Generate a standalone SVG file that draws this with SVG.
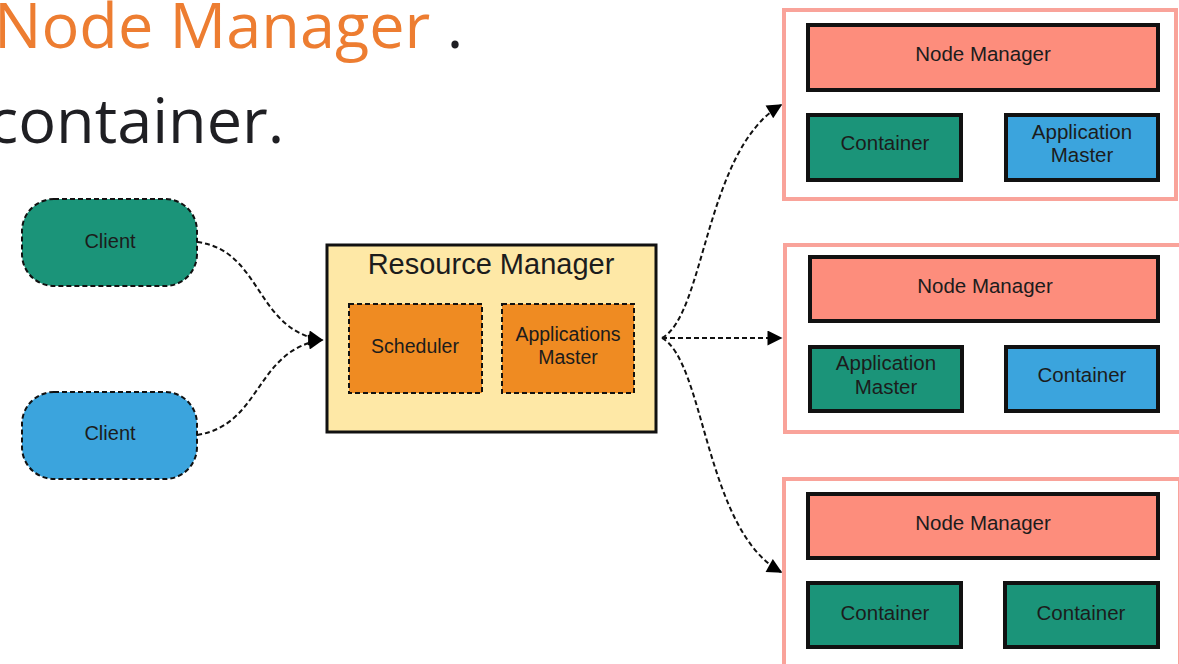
<svg xmlns="http://www.w3.org/2000/svg" width="1179" height="664" viewBox="0 0 1179 664">
<defs>
<style>
.t{font-family:"Liberation Sans",Arial,sans-serif;fill:#1c1c1c;text-anchor:middle}
.n{font-size:20.5px}
.big{font-family:"Open Sans","Noto Sans",sans-serif;font-size:63px}
.dash{stroke:#111;stroke-width:2;stroke-dasharray:5 3;fill:none}
.solid{stroke:#111;stroke-width:4}
.outer{fill:#fff;stroke:#F9A39A;stroke-width:4}
.nm{fill:#FD8D7C}
.green{fill:#1B9479}
.blue{fill:#3BA4DD}
.orange{fill:#EF8B22}
</style>
<marker id="ah" viewBox="0 0 10 10" refX="9" refY="5" markerWidth="18" markerHeight="15" markerUnits="userSpaceOnUse" orient="auto">
<path d="M0 0 L10 5 L0 10 z" fill="#000"/>
</marker>
</defs>
<rect width="1179" height="664" fill="#fff"/>
<text class="big" x="-6" y="48" fill="#ED7D31">Node Manager <tspan fill="#1F1F23">.</tspan></text>
<text class="big" x="-12" y="143" fill="#1F1F23">container.</text>

<g id="connectors">
<path class="dash" d="M197 242 C262 250 255 330 322 340" marker-end="url(#ah)"/>
<path class="dash" d="M197 435 C262 425 255 350 322 340" marker-end="url(#ah)"/>
<path class="dash" d="M662 338 C705 315 705 150 781 105" marker-end="url(#ah)"/>
<path class="dash" d="M662 338 L781 338" marker-end="url(#ah)"/>
<path class="dash" d="M662 338 C705 362 705 530 781 572" marker-end="url(#ah)"/>
</g>

<g id="client1">
<rect class="dash green" x="22" y="199" width="175" height="87" rx="32"/>
<text class="t" x="110" y="248" font-size="20">Client</text>
</g>
<g id="client2">
<rect class="dash blue" x="22" y="392" width="175" height="87" rx="32"/>
<text class="t" x="110" y="440" font-size="20">Client</text>
</g>

<g id="resource-manager">
<rect x="327" y="245" width="329" height="187" fill="#FEE8A6" stroke="#111" stroke-width="3"/>
<text class="t" x="491" y="274" font-size="29">Resource Manager</text>
<g id="scheduler">
<rect class="dash orange" x="349" y="304" width="133" height="89"/>
<text class="t" x="415" y="353" font-size="19.5">Scheduler</text>
</g>
<g id="applications-master">
<rect class="dash orange" x="502" y="304" width="132" height="89"/>
<text class="t" x="568" y="341" font-size="19.5">Applications</text>
<text class="t" x="568" y="364" font-size="19.5">Master</text>
</g>
</g>

<g id="node1">
<rect class="outer" x="784" y="10" width="392" height="189"/>
<rect class="nm solid" x="808" y="25" width="350" height="65"/>
<text class="t n" x="983" y="61">Node Manager</text>
<rect class="green solid" x="808" y="115" width="153" height="65"/>
<text class="t n" x="885" y="150">Container</text>
<rect class="blue solid" x="1006" y="115" width="152" height="65"/>
<text class="t n" x="1082" y="139">Application</text>
<text class="t n" x="1082" y="162">Master</text>
</g>

<g id="node2">
<rect class="outer" x="785" y="245" width="396" height="187"/>
<rect class="nm solid" x="810" y="257" width="348" height="64"/>
<text class="t n" x="985" y="293">Node Manager</text>
<rect class="green solid" x="810" y="347" width="152" height="64"/>
<text class="t n" x="886" y="370">Application</text>
<text class="t n" x="886" y="394">Master</text>
<rect class="blue solid" x="1006" y="347" width="152" height="64"/>
<text class="t n" x="1082" y="382">Container</text>
</g>

<g id="node3">
<rect class="outer" x="784" y="479" width="396" height="200"/>
<rect class="nm solid" x="808" y="494" width="350" height="64"/>
<text class="t n" x="983" y="530">Node Manager</text>
<rect class="green solid" x="808" y="583" width="153" height="64"/>
<text class="t n" x="885" y="620">Container</text>
<rect class="green solid" x="1005" y="583" width="153" height="64"/>
<text class="t n" x="1081" y="620">Container</text>
</g>
</svg>
